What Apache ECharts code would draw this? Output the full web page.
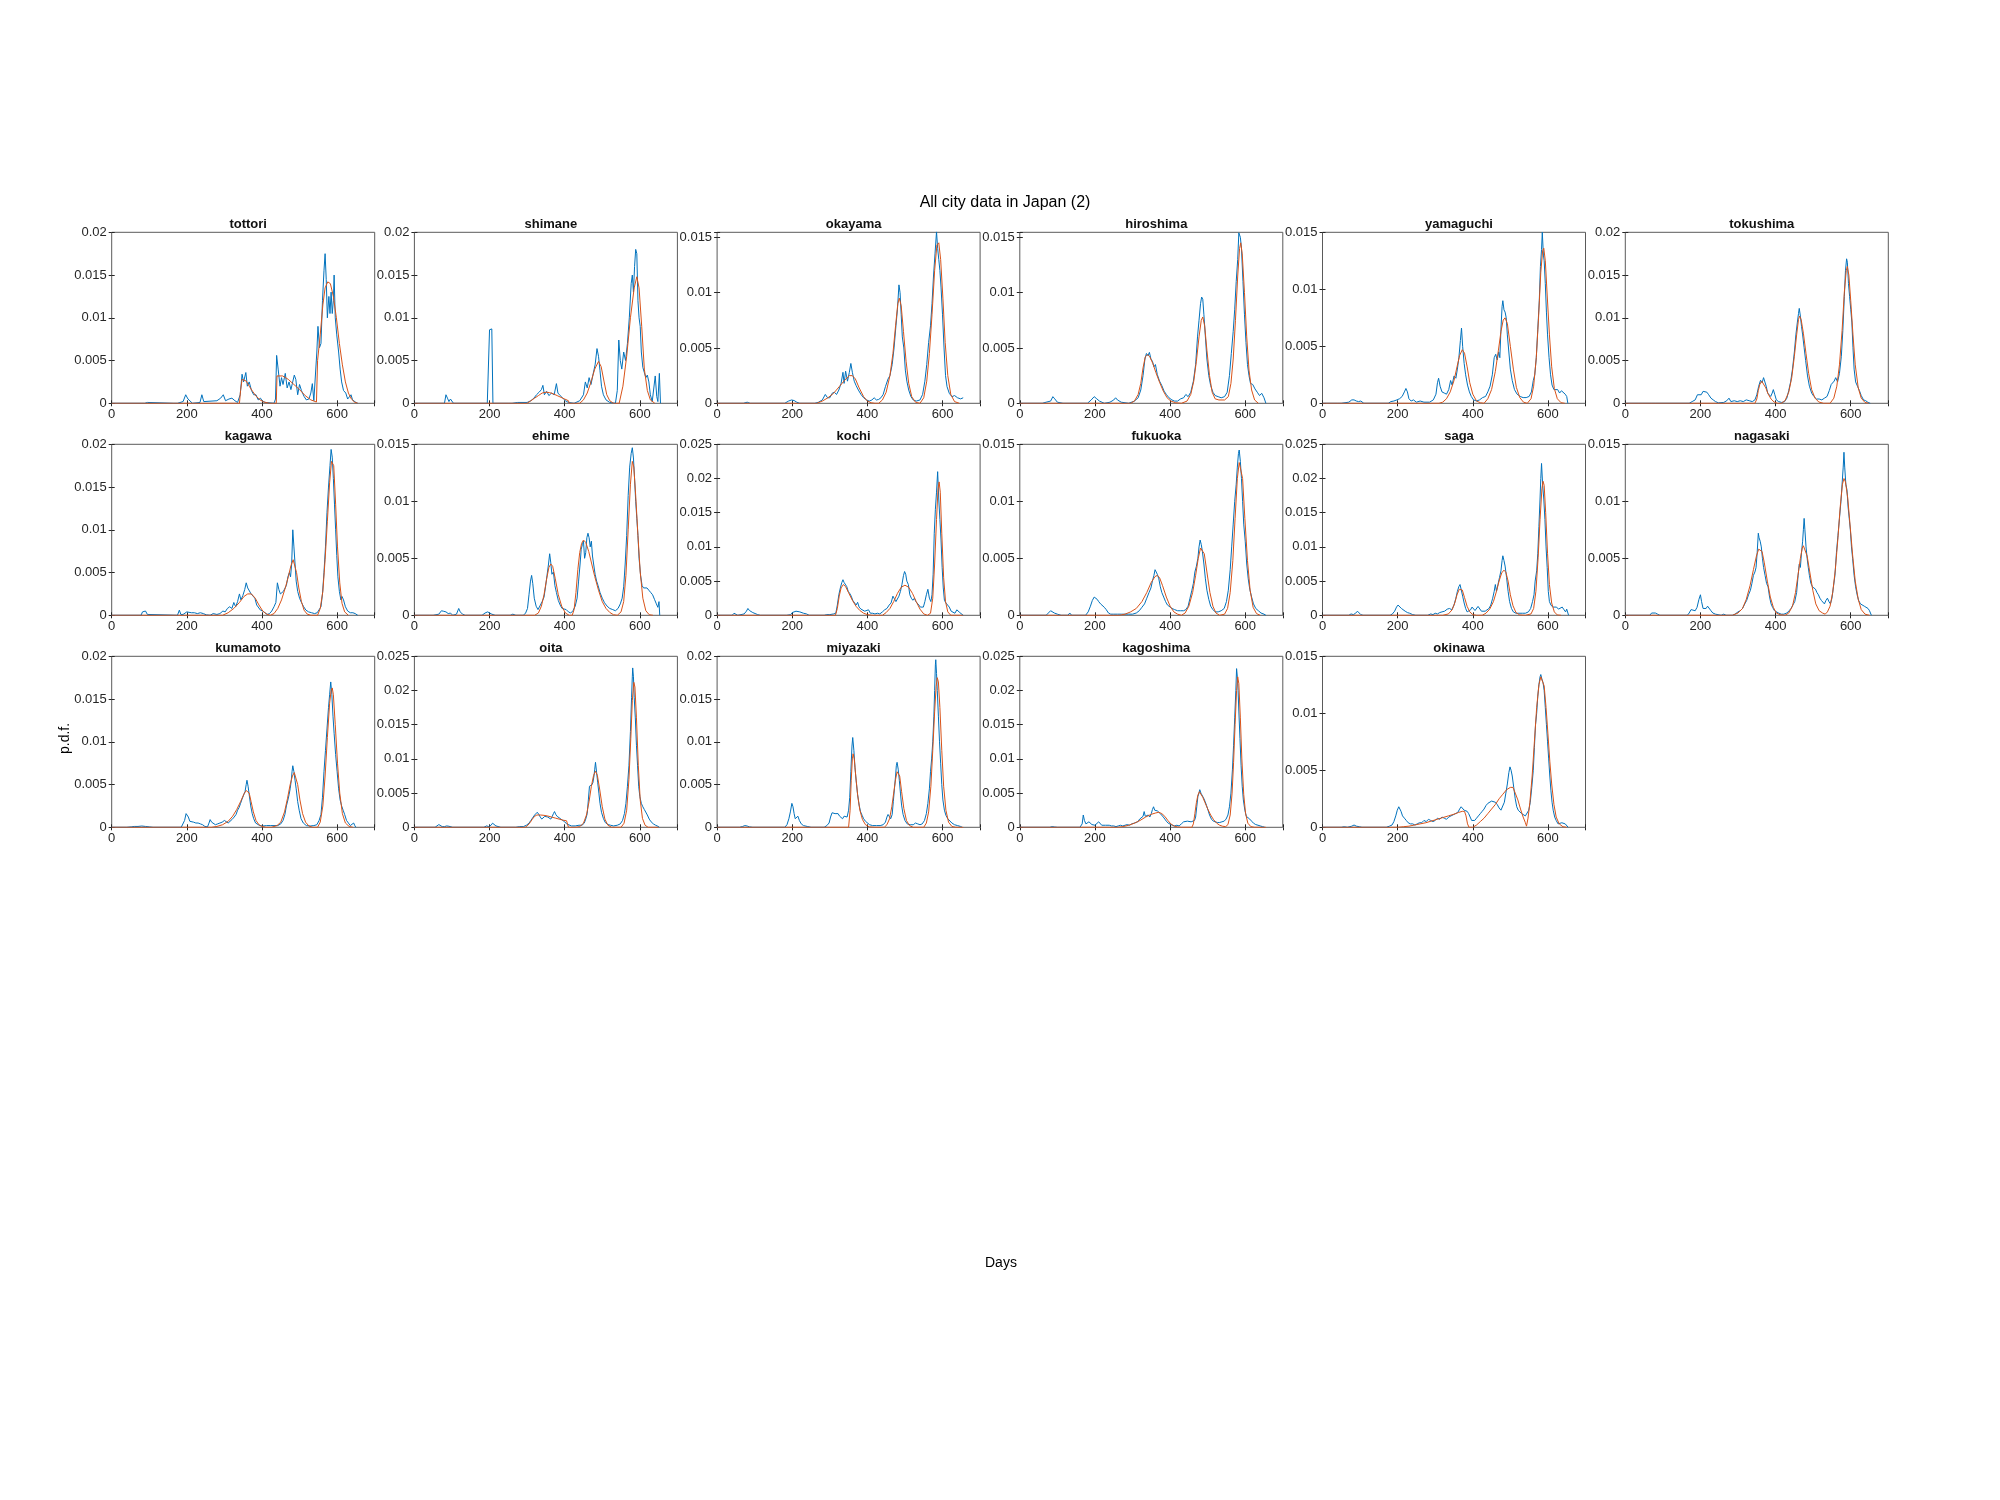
<!DOCTYPE html>
<html><head><meta charset="utf-8">
<script src="https://cdn.jsdelivr.net/npm/echarts@6/dist/echarts.min.js"></script>
<style>html,body{margin:0;padding:0;background:#fff}#c{width:2000px;height:1500px}</style>
</head><body><div id="c"></div>
<script>
// values are in units of 1e-3 (p.d.f. x 1000); axis labels show the real p.d.f.
const cities = ['tottori','shimane','okayama','hiroshima','yamaguchi','tokushima','kagawa','ehime','kochi','fukuoka','saga','nagasaki','kumamoto','oita','miyazaki','kagoshima','okinawa'];
const yMax = [20,20,15.45,15.45,15,20,20,15,25,15,25,15,20,25,20,25,15];
const xTicks = [0,200,400,600];
const yTickStep = 5;

const tottoriObs=[[0,0],[80,0],[84,0.15],[88,0],[95,0.1],[100,0],[165,0],[170,0.1],[175,0],[190,0.2],[197,1.0],[203,0.5],[208,0.3],[215,0],[235,0.1],[240,1.0],[245,0.2],[250,0],[280,0.3],[290,0.6],[297,1.0],[303,0.3],[312,0.5],[320,0.6],[328,0.3],[335,0.1],[342,1.0],[347,3.4],[351,2.5],[357,3.6],[361,2.0],[366,2.5],[372,1.5],[378,1.0],[384,1.0],[390,0.4],[396,0.6],[402,0.2],[410,0.1],[432,0],[436,0.5],[439,5.6],[443,4.0],[448,2.0],[452,3.0],[456,2.2],[462,3.5],[467,1.8],[472,2.5],[477,1.6],[482,1.5],[486,3.3],[490,2.8],[495,1.0],[500,2.2],[505,1.5],[512,0.8],[518,0.4],[525,0.5],[530,1.2],[534,2.3],[538,0.3],[543,0.2],[546,6.0],[549,9.0],[553,6.5],[557,7.0],[561,12],[565,15.5],[568,17.5],[571,14.5],[574,10],[578,12.5],[581,10.5],[584,13],[587,10.5],[590,12],[592,15],[595,10],[599,8],[604,6],[608,4],[612,2.5],[617,1.5],[623,1.2],[628,0.5],[633,0.6],[637,1.0],[641,0.4],[646,0.3],[650,0.1],[655,0]];
const tottoriFit=[[0,0],[340,0],[343,1.5],[347,2.8],[350,3.0],[358,2.6],[366,2.0],[375,1.4],[385,0.8],[395,0.4],[405,0.15],[420,0],[438,0],[440,3.2],[455,3.2],[470,2.8],[485,2.2],[500,1.6],[515,0.9],[530,0.4],[545,0.15],[548,5.0],[555,8.0],[562,11.5],[568,13.5],[575,14.2],[582,14.0],[590,12.5],[598,10],[606,7],[614,4.5],[622,2.5],[630,1.2],[638,0.5],[646,0.15],[655,0]];

const shimaneObs=[[0,0],[80,0],[84,1.0],[88,0.6],[92,0.2],[96,0.5],[100,0.4],[104,0],[185,0],[190,0.2],[194,0],[198,0],[200,8.6],[203,8.4],[206,8.7],[209,0],[214,0.2],[220,0],[250,0],[254,0.2],[260,0],[275,0.1],[300,0.1],[310,0.3],[318,0.6],[325,1.0],[332,1.3],[338,1.6],[342,2.1],[346,1.0],[352,1.4],[358,0.9],[365,1.2],[372,1.0],[378,2.3],[382,1.2],[388,0.9],[395,0.6],[402,0.3],[410,0.1],[425,0],[440,0.3],[450,1.0],[455,2.5],[460,1.8],[465,3.0],[470,2.2],[476,3.5],[481,4.5],[486,6.4],[490,5.5],[494,3.8],[498,2.0],[503,1.0],[510,0.4],[520,0.1],[535,0],[540,1.5],[544,7.4],[548,5.0],[552,4.0],[557,6.0],[562,5.0],[567,7.0],[572,10],[577,14],[580,15],[583,13],[586,16],[589,18],[592,17.5],[595,12],[598,10],[601,9],[604,6],[608,4.2],[612,4.0],[616,3.0],[620,3.3],[624,2.5],[628,1.0],[633,0.2],[637,0],[641,3.2],[645,0.8],[648,0.2],[652,3.5],[655,0]];
const shimaneFit=[[0,0],[300,0],[310,0.3],[320,0.6],[330,0.9],[340,1.2],[350,1.3],[360,1.25],[370,1.1],[380,0.9],[390,0.7],[400,0.5],[410,0.3],[412,0],[440,0],[450,0.4],[460,1.2],[470,2.5],[480,4.0],[490,4.9],[497,4.3],[505,2.5],[512,1.0],[520,0.3],[530,0],[545,0],[555,2],[565,5.5],[575,10],[585,13.5],[592,14.8],[598,13.5],[605,9],[612,4],[620,1.5],[628,0.4],[640,0]];

const okayamaObs=[[0,0],[70,0],[75,0.15],[80,0.1],[88,0],[180,0],[190,0.2],[198,0.3],[205,0.25],[212,0.1],[220,0],[260,0],[270,0.1],[280,0.3],[288,0.8],[294,0.5],[300,0.5],[306,0.9],[312,1.0],[318,0.8],[324,1.2],[330,1.8],[335,2.8],[338,1.8],[342,2.9],[347,2.0],[352,2.8],[356,3.6],[360,2.8],[365,2.0],[370,1.6],[376,1.2],[383,0.8],[390,0.5],[398,0.3],[405,0.2],[412,0.3],[418,0.5],[424,0.3],[430,0.35],[436,0.5],[442,0.8],[448,1.5],[455,2.2],[460,2.5],[466,3.5],[471,5.0],[476,7.0],[480,8.5],[484,10.7],[487,10.0],[490,8.0],[493,6.0],[497,5.0],[501,3.0],[505,2.0],[510,1.2],[516,0.6],[522,0.3],[530,0.2],[540,0.3],[547,0.8],[553,2.0],[558,3.5],[563,5.5],[568,7.0],[572,9.0],[576,11.5],[580,13.5],[584,15.5],[587,14.0],[590,13.0],[593,12.0],[596,10.5],[600,8.0],[604,5.0],[608,2.5],[612,1.5],[618,0.9],[625,0.6],[632,0.7],[640,0.5],[648,0.4],[655,0.5]];
const okayamaFit=[[0,0],[265,0],[280,0.2],[295,0.5],[310,0.9],[325,1.5],[340,2.1],[352,2.5],[360,2.5],[368,2.2],[378,1.4],[390,0.6],[400,0.2],[410,0.05],[420,0],[430,0],[440,0.3],[450,1.0],[460,2.5],[468,4.5],[475,7.0],[481,9.0],[485,9.5],[490,8.8],[496,6.5],[503,3.8],[510,1.8],[518,0.6],[528,0.1],[540,0],[550,0.5],[558,2.0],[565,4.5],[572,8.0],[579,12],[585,14.3],[590,14.5],[595,13],[601,9.5],[607,5.5],[614,2.5],[622,0.8],[632,0.15],[645,0]];

const hiroshimaObs=[[0,0],[60,0],[70,0.1],[82,0.2],[88,0.6],[93,0.4],[100,0.1],[115,0],[180,0],[190,0.3],[198,0.6],[205,0.4],[212,0.2],[225,0],[240,0.1],[250,0.3],[255,0.5],[260,0.3],[270,0.1],[290,0],[305,0.2],[315,0.5],[322,1.2],[328,2.5],[333,4.0],[337,4.5],[341,4.3],[345,4.6],[349,4.0],[353,3.8],[357,3.3],[361,3.5],[366,2.6],[372,2.0],[378,1.6],[384,1.1],[390,0.8],[397,0.5],[405,0.3],[412,0.2],[420,0.2],[428,0.4],[436,0.5],[442,0.8],[448,0.6],[455,1.0],[462,2.0],[468,3.5],[473,6.0],[477,7.5],[481,9.0],[484,9.6],[487,9.4],[490,8.0],[494,6.0],[498,4.0],[503,2.5],[508,1.6],[514,1.0],[520,0.7],[528,0.6],[536,0.5],[545,0.6],[552,1.0],[558,2.5],[563,4.5],[568,6.5],[572,8.5],[576,11],[580,13],[583,15.4],[587,15],[590,14],[594,11],[598,8],[602,5.5],[606,3.5],[610,2.5],[614,1.8],[620,1.7],[626,1.3],[632,1.0],[638,0.7],[644,0.9],[650,0.5],[655,0]];
const hiroshimaFit=[[0,0],[295,0],[305,0.2],[315,0.8],[322,1.8],[328,3.2],[334,4.2],[340,4.4],[346,4.2],[354,3.6],[362,2.8],[372,1.9],[382,1.1],[392,0.5],[402,0.2],[415,0.05],[430,0],[445,0.2],[455,0.8],[463,2.0],[470,3.8],[477,6.0],[483,7.5],[487,7.8],[492,7.0],[498,4.8],[505,2.5],[512,1.0],[520,0.4],[530,0.3],[545,0.3],[555,0.6],[562,1.8],[568,4.0],[574,7.5],[580,11.5],[585,14.0],[588,14.5],[592,13.5],[598,10],[604,6.0],[610,3.0],[617,1.2],[625,0.3],[635,0]];

const yamaguchiObs=[[0,0],[40,0],[45,0.15],[50,0],[70,0.1],[78,0.3],[84,0.3],[90,0.2],[96,0.15],[102,0.2],[110,0],[175,0],[182,0.15],[190,0.2],[198,0.3],[205,0.4],[212,0.6],[218,1.0],[222,1.3],[226,1.0],[230,0.4],[236,0.2],[242,0.3],[250,0.1],[260,0.2],[270,0.1],[285,0.1],[295,0.3],[302,0.8],[306,1.8],[309,2.2],[313,1.5],[318,1.0],[324,0.9],[330,0.8],[336,1.2],[341,2.0],[345,1.6],[350,2.4],[355,2.2],[359,3.0],[363,4.0],[367,5.5],[370,6.6],[373,5.0],[377,3.5],[381,2.5],[386,1.6],[391,1.0],[396,0.6],[402,0.3],[410,0.2],[418,0.3],[426,0.5],[434,0.6],[440,1.0],[446,1.5],[452,2.5],[457,4.0],[461,4.3],[465,3.8],[469,4.5],[472,4.0],[475,6.5],[478,8.5],[480,9.0],[483,8.2],[486,8.0],[489,7.5],[492,6.0],[496,4.5],[500,3.0],[505,2.0],[511,1.2],[518,0.8],[526,0.6],[534,0.5],[542,0.5],[550,0.6],[556,1.0],[561,2.0],[565,2.5],[569,4.0],[573,6.5],[577,9.0],[580,12],[583,13.5],[585,15],[588,13],[590,12.5],[593,10.5],[596,8],[599,6],[603,4],[607,2.5],[611,1.6],[616,1.2],[621,1.1],[626,1.2],[631,0.9],[636,1.1],[641,1.0],[646,0.8],[650,0.6],[653,0]];
const yamaguchiFit=[[0,0],[310,0],[320,0.1],[330,0.4],[340,1.0],[350,2.0],[358,3.2],[365,4.2],[372,4.7],[378,4.4],[385,3.2],[392,1.8],[400,0.8],[410,0.2],[420,0.05],[430,0],[440,0.4],[450,1.2],[460,2.8],[468,4.6],[475,6.3],[481,7.3],[486,7.5],[492,7.0],[500,5.0],[508,3.0],[516,1.4],[525,0.5],[535,0.1],[545,0],[555,0.4],[562,1.5],[569,4.0],[575,7.5],[581,11.5],[586,13.4],[589,13.6],[593,12.5],[598,9.5],[604,6.0],[610,3.2],[617,1.3],[625,0.4],[635,0.05],[645,0]];

const tokushimaObs=[[0,0],[35,0],[40,0.1],[45,0],[70,0],[75,0.15],[80,0],[170,0],[178,0.2],[186,0.4],[192,1.0],[197,1.2],[202,1.0],[207,1.4],[212,1.2],[217,1.3],[222,1.0],[228,0.6],[234,0.4],[240,0.2],[248,0.05],[262,0.1],[270,0.3],[276,0.6],[281,0.2],[290,0.3],[298,0.2],[306,0.3],[314,0.2],[322,0.4],[330,0.3],[338,0.2],[345,0.4],[350,1.0],[355,2.0],[360,2.7],[364,2.4],[368,3.0],[371,3.1],[375,2.0],[379,1.2],[383,1.0],[387,0.8],[391,1.2],[394,1.6],[398,1.0],[402,0.4],[408,0.2],[416,0.1],[424,0.2],[430,0.6],[435,1.5],[440,2.5],[445,4.0],[450,6.0],[454,8.0],[458,9.5],[461,10.5],[463,11.1],[466,10.2],[469,9.0],[472,8.0],[476,6.5],[480,5.0],[485,3.2],[490,2.0],[496,1.2],[502,0.8],[509,0.5],[516,0.5],[523,0.4],[530,0.6],[537,0.8],[543,1.5],[548,2.2],[552,2.0],[556,2.6],[560,3.0],[565,2.5],[570,3.5],[575,5.5],[579,8.5],[583,12.5],[586,15.5],[589,16.9],[591,16.5],[594,14],[597,12.5],[600,11],[603,9.5],[606,6.5],[609,4.0],[613,2.5],[618,2.0],[623,1.5],[628,0.9],[634,0.4],[640,0.3],[646,0.1],[652,0]];
const tokushimaFit=[[0,0],[345,0],[350,0.5],[354,1.5],[358,2.2],[363,2.6],[368,2.4],[374,1.8],[380,1.1],[388,0.5],[396,0.15],[405,0],[415,0],[425,0.3],[435,1.3],[443,3.0],[450,5.5],[456,8.0],[461,9.8],[464,10.2],[468,9.8],[474,8.2],[481,5.8],[488,3.5],[496,1.6],[505,0.6],[515,0.15],[528,0],[545,0],[555,0.6],[563,2.0],[570,4.5],[577,8.5],[583,13],[588,15.5],[591,16.0],[595,15],[600,12],[606,8],[612,4.5],[620,1.8],[628,0.6],[638,0.1],[648,0]];

const kagawaObs=[[0,0],[78,0],[82,0.4],[86,0.6],[90,0.5],[95,0.1],[100,0],[175,0],[180,0.6],[184,0.1],[190,0.1],[195,0.3],[200,0.4],[205,0.2],[212,0.3],[220,0.3],[228,0.2],[236,0.3],[244,0.2],[252,0.05],[262,0],[270,0.2],[280,0.1],[288,0.2],[296,0.5],[302,0.4],[308,0.8],[314,1.0],[320,0.8],[325,1.5],[330,1.0],[335,1.6],[340,2.5],[344,1.8],[349,2.3],[354,3.0],[358,3.8],[362,3.2],[366,3.0],[371,2.5],[376,2.6],[381,2.0],[386,1.2],[391,1.0],[396,0.6],[402,0.5],[408,0.3],[414,0.1],[420,0.2],[426,0.5],[432,1.0],[437,1.5],[441,3.8],[445,3.0],[449,2.5],[453,2.5],[457,2.8],[461,3.0],[465,3.5],[469,4.5],[473,5.0],[476,4.5],[479,6.0],[482,10.0],[485,8.0],[488,6.0],[491,4.0],[495,2.8],[500,2.0],[505,1.5],[511,1.0],[517,0.6],[524,0.4],[532,0.3],[540,0.2],[547,0.3],[552,0.5],[557,1.0],[561,2.5],[565,5.0],[569,8.0],[573,12],[577,15],[581,17.5],[584,19.4],[587,18.5],[590,16],[593,13],[596,10],[599,7],[602,4.5],[606,2.8],[610,1.8],[613,2.2],[617,1.8],[622,1.0],[628,0.5],[635,0.3],[642,0.3],[648,0.2],[655,0]];
const kagawaFit=[[0,0],[295,0],[310,0.3],[325,0.8],[340,1.5],[352,2.2],[362,2.5],[372,2.5],[382,2.0],[392,1.2],[402,0.5],[412,0.15],[422,0],[432,0.2],[442,0.8],[452,1.8],[462,3.2],[470,4.5],[477,5.8],[483,6.5],[487,6.3],[492,5.0],[498,3.2],[505,1.6],[512,0.6],[520,0.15],[530,0],[548,0],[555,0.8],[562,2.8],[568,6.5],[574,11],[580,15.5],[585,18.0],[588,18.2],[591,17.5],[596,13],[601,8],[607,3.8],[613,1.4],[620,0.4],[630,0]];

const ehimeObs=[[0,0],[40,0],[45,0.1],[50,0],[65,0.1],[72,0.4],[78,0.35],[84,0.3],[90,0.15],[96,0.2],[102,0],[112,0.1],[118,0.6],[122,0.3],[128,0.1],[135,0],[180,0],[188,0.2],[195,0.3],[200,0.2],[206,0.1],[215,0],[255,0],[262,0.1],[270,0],[290,0],[296,0.2],[301,0.6],[305,1.8],[309,3.0],[312,3.5],[315,2.8],[319,1.5],[324,0.8],[329,0.5],[334,0.6],[340,1.2],[345,1.6],[349,2.5],[353,3.5],[357,4.5],[360,5.4],[363,4.6],[366,3.6],[370,3.8],[374,2.6],[378,2.0],[383,1.3],[388,0.9],[393,0.6],[398,0.6],[404,0.5],[410,0.3],[416,0.2],[422,0.4],[428,0.8],[433,1.5],[437,3.0],[441,4.5],[444,5.8],[447,6.2],[450,6.5],[453,5.0],[456,5.5],[459,6.8],[462,7.2],[465,6.8],[468,6.0],[471,6.5],[474,5.2],[477,4.5],[481,3.6],[485,3.0],[489,2.6],[494,2.0],[500,1.5],[506,1.1],[513,0.8],[520,0.6],[528,0.5],[535,0.4],[542,0.6],[548,1.0],[553,1.5],[557,2.5],[561,4.5],[565,7.0],[569,10.5],[573,13],[577,14.2],[580,14.7],[583,13.8],[586,12],[589,10],[592,8.5],[595,7.0],[598,5.0],[602,3.5],[606,2.6],[610,2.4],[614,2.5],[619,2.4],[624,2.2],[629,2.0],[634,1.8],[639,1.4],[644,1.0],[648,0.7],[651,1.2],[653,0]];
const ehimeFit=[[0,0],[320,0],[330,0.2],[338,0.8],[345,1.8],[352,3.2],[358,4.2],[363,4.5],[368,4.3],[375,3.2],[383,1.8],[392,0.8],[402,0.2],[412,0],[420,0],[425,0.5],[430,2.0],[435,4.0],[440,5.5],[445,6.3],[450,6.6],[456,6.4],[464,5.6],[472,4.5],[480,3.4],[490,2.2],[500,1.2],[510,0.6],[520,0.25],[530,0.05],[540,0],[550,0.3],[557,1.2],[563,3.5],[569,7.5],[575,11.5],[580,13.5],[584,13.0],[589,10.5],[595,7.0],[601,3.8],[608,1.5],[616,0.4],[625,0.05],[635,0]];

const kochiObs=[[0,0],[40,0],[45,0.3],[50,0.2],[55,0],[72,0.2],[78,0.6],[82,1.0],[86,0.7],[90,0.5],[95,0.4],[100,0.3],[108,0.1],[115,0],[185,0],[190,0.2],[196,0.1],[200,0.4],[205,0.2],[210,0.6],[215,0.8],[220,0.5],[225,0.6],[230,0.3],[238,0.2],[245,0],[285,0],[292,0.1],[300,0.1],[310,0.2],[316,0.3],[320,1.5],[324,3.0],[328,4.0],[332,4.8],[335,5.2],[338,4.8],[341,5.0],[345,4.2],[349,3.5],[353,3.2],[357,2.8],[361,2.2],[366,1.8],[370,1.5],[374,1.9],[378,1.2],[383,0.9],[388,1.0],[393,0.6],[398,0.5],[403,0.8],[408,0.3],[414,0.3],[420,0.2],[427,0.3],[433,0.2],[440,0.5],[446,0.8],[452,1.0],[458,1.5],[463,1.8],[468,2.8],[472,2.4],[476,2.0],[480,2.2],[484,2.8],[488,3.5],[492,4.5],[496,5.8],[499,6.4],[502,6.0],[505,5.0],[509,4.5],[513,3.0],[517,2.5],[521,2.2],[525,2.5],[529,2.0],[533,1.8],[537,1.5],[541,1.2],[545,1.0],[549,1.2],[553,2.0],[557,3.0],[561,3.8],[565,2.5],[569,2.0],[572,3.0],[575,6.0],[578,12],[581,15.5],[584,18],[587,21],[590,17],[593,14],[596,11],[599,7],[602,4],[605,2.2],[609,1.8],[613,1.9],[618,1.2],[623,0.6],[628,0.4],[633,0.3],[638,0.8],[642,1.0],[646,0.4],[650,0.3],[655,0]];
const kochiFit=[[0,0],[315,0],[320,1.0],[325,2.8],[330,4.0],[336,4.5],[342,4.2],[350,3.3],[360,2.2],[370,1.3],[380,0.7],[390,0.3],[400,0.1],[412,0],[440,0],[450,0.4],[460,1.0],[470,2.0],[480,3.2],[490,4.1],[500,4.4],[510,4.1],[520,3.2],[530,2.0],[540,0.9],[550,0.2],[560,0],[568,0.3],[574,2.5],[579,7.5],[584,14],[588,18.5],[591,19.5],[594,18],[598,12],[603,5.5],[608,2.0],[614,0.5],[622,0],[655,0]];

const fukuokaObs=[[0,0],[70,0],[76,0.2],[82,0.4],[86,0.4],[92,0.2],[100,0.1],[110,0],[128,0],[133,0.2],[138,0],[175,0],[182,0.3],[188,0.8],[193,1.3],[198,1.6],[202,1.7],[206,1.4],[210,1.2],[215,1.0],[220,0.9],[225,0.7],[230,0.5],[236,0.2],[242,0.1],[250,0.1],[260,0.1],[270,0.1],[280,0.1],[290,0.1],[300,0.1],[310,0.2],[318,0.4],[325,0.7],[332,1.0],[338,1.5],[344,2.0],[349,2.4],[353,3.0],[357,3.5],[360,4.0],[363,4.0],[366,3.6],[370,3.2],[374,2.5],[378,2.0],[383,1.6],[388,1.2],[393,0.9],[398,0.8],[405,0.6],[412,0.5],[420,0.4],[428,0.4],[436,0.4],[442,0.5],[448,0.8],[453,1.5],[458,2.2],[462,2.8],[466,3.8],[470,4.3],[474,5.0],[477,6.0],[480,6.6],[483,6.2],[486,5.6],[490,4.5],[494,3.2],[498,2.2],[503,1.4],[508,0.8],[514,0.5],[520,0.3],[528,0.3],[536,0.4],[544,0.6],[550,1.2],[555,2.2],[560,4.0],[564,6.0],[568,8.0],[572,10],[576,11.5],[579,13],[582,14.2],[584,14.5],[587,13.5],[590,12],[593,10],[596,8],[600,6.5],[604,4.5],[608,3.2],[612,2.3],[617,1.6],[622,1.0],[628,0.6],[635,0.4],[642,0.2],[650,0.1],[655,0]];
const fukuokaFit=[[0,0],[265,0],[280,0.1],[295,0.3],[310,0.6],[325,1.2],[338,2.0],[350,2.9],[360,3.4],[366,3.5],[372,3.3],[380,2.6],[390,1.6],[400,0.8],[410,0.3],[420,0.1],[430,0],[440,0.2],[450,0.8],[460,2.0],[468,3.5],[475,5.0],[481,5.9],[486,6.0],[491,5.4],[498,3.8],[506,2.0],[514,0.8],[522,0.2],[532,0],[545,0.1],[553,0.6],[560,2.0],[567,4.8],[573,8.5],[579,12],[584,13.4],[588,13.5],[593,12],[599,8.5],[606,4.8],[613,2.2],[621,0.7],[630,0.15],[640,0]];

const sagaObs=[[0,0],[70,0],[76,0.2],[82,0.1],[88,0.3],[93,0.6],[97,0.5],[102,0.1],[108,0],[180,0],[186,0.2],[192,0.6],[197,1.2],[201,1.5],[205,1.3],[210,1.0],[215,0.8],[220,0.6],[226,0.4],[232,0.3],[240,0.1],[248,0],[280,0],[288,0.2],[294,0.1],[300,0.3],[306,0.2],[312,0.4],[318,0.5],[325,0.6],[332,0.9],[338,1.0],[344,0.8],[350,1.5],[355,2.5],[359,3.5],[363,4.2],[366,4.5],[369,3.8],[373,2.8],[377,1.8],[381,1.0],[385,0.5],[390,0.4],[394,0.8],[398,1.2],[402,1.0],[406,0.7],[410,0.9],[414,1.3],[418,1.1],[423,0.6],[428,0.5],[433,0.6],[438,0.8],[443,1.0],[448,1.5],[453,2.5],[457,3.5],[460,4.5],[463,3.5],[467,4.5],[471,5.5],[475,6.5],[478,8.0],[480,8.7],[483,8.0],[486,7.2],[490,5.5],[494,3.5],[498,2.0],[503,1.0],[508,0.5],[515,0.3],[523,0.3],[532,0.3],[540,0.3],[548,0.5],[554,1.0],[559,2.0],[563,3.0],[566,5.0],[570,6.5],[573,9.0],[576,13],[579,17],[581,20],[583,22.2],[586,19],[589,17],[592,14],[595,10],[598,7],[601,3.5],[604,2.0],[608,1.5],[613,1.2],[618,1.4],[623,1.2],[628,0.9],[633,1.0],[638,1.2],[643,0.8],[647,0.5],[650,0.9],[653,0.7],[655,0]];
const sagaFit=[[0,0],[320,0],[335,0.2],[345,0.8],[352,1.8],[358,3.0],[364,3.8],[368,4.0],[372,3.7],[378,2.6],[385,1.3],[392,0.5],[400,0.1],[410,0],[425,0],[435,0.3],[445,0.9],[455,2.0],[463,3.5],[470,5.0],[477,6.2],[483,6.6],[488,6.3],[494,5.0],[500,3.0],[507,1.4],[515,0.4],[525,0.05],[540,0],[555,0.2],[562,1.0],[568,3.5],[574,8.5],[579,14],[584,18.5],[587,19.6],[590,19],[594,15],[599,9],[604,4.5],[610,1.8],[617,0.5],[625,0.05],[635,0]];

const nagasakiObs=[[0,0],[65,0],[70,0.2],[75,0.3],[80,0.2],[86,0.1],[92,0],[165,0],[170,0.2],[175,0.5],[180,0.5],[186,0.4],[191,0.7],[196,1.4],[200,1.8],[203,1.2],[207,0.6],[211,0.5],[215,0.6],[219,0.8],[223,0.7],[228,0.4],[233,0.2],[240,0.1],[255,0],[262,0.1],[268,0],[285,0],[292,0.1],[300,0.3],[306,0.4],[312,0.6],[318,1.0],[323,1.3],[328,1.8],[333,2.2],[337,2.8],[341,3.5],[345,3.8],[348,4.2],[351,5.5],[354,7.2],[356,6.8],[359,6.5],[362,6.0],[365,5.0],[368,4.2],[372,3.5],[376,2.8],[380,2.5],[384,1.6],[388,1.0],[392,0.7],[397,0.4],[402,0.3],[408,0.2],[415,0.1],[422,0.1],[430,0.2],[436,0.4],[441,0.6],[446,0.7],[451,1.2],[456,2.0],[460,3.5],[463,4.5],[466,4.2],[469,5.5],[472,6.5],[474,7.5],[476,8.5],[478,7.5],[481,6.0],[484,5.0],[487,4.2],[490,3.5],[494,2.8],[498,2.5],[502,2.6],[506,2.3],[510,2.0],[514,1.8],[518,1.5],[522,1.3],[526,1.2],[530,1.0],[534,1.3],[538,1.5],[542,1.2],[546,1.0],[550,1.5],[554,2.5],[558,3.5],[562,5.5],[566,7.0],[570,8.5],[574,10],[577,11.5],[580,13],[582,14.3],[584,13],[587,11.5],[590,11],[593,9.5],[596,8.5],[599,7.5],[602,6.0],[605,5.0],[609,3.5],[613,2.5],[617,1.8],[621,1.3],[626,1.0],[631,0.9],[636,0.8],[641,0.8],[646,0.6],[650,0.4],[653,0.5],[655,0]];
const nagasakiFit=[[0,0],[285,0],[300,0.2],[312,0.6],[322,1.4],[332,2.6],[341,4.0],[349,5.2],[355,5.8],[359,5.9],[364,5.6],[370,4.6],[378,3.0],[386,1.6],[394,0.7],[402,0.2],[412,0.05],[425,0],[435,0.2],[445,0.8],[453,2.0],[460,3.6],[466,5.0],[471,5.9],[474,6.1],[478,6.0],[484,5.2],[491,3.8],[499,2.2],[507,1.0],[516,0.4],[525,0.2],[532,0.1],[538,0.3],[545,0.8],[552,2.0],[559,4.0],[566,6.8],[572,9.5],[578,11.5],[582,12.0],[586,11.7],[592,10.3],[598,8.0],[605,5.3],[612,3.0],[620,1.4],[628,0.5],[638,0.1],[650,0]];

const kumamotoObs=[[0,0],[40,0],[45,0.1],[52,0.05],[60,0.1],[70,0.1],[80,0.15],[90,0.1],[100,0.05],[110,0],[185,0],[190,0.2],[194,0.8],[198,1.6],[201,1.7],[204,1.2],[208,0.7],[213,0.5],[218,0.6],[224,0.5],[230,0.5],[236,0.4],[242,0.3],[248,0.1],[255,0.05],[259,0.5],[262,0.9],[266,0.6],[270,0.4],[276,0.3],[282,0.4],[288,0.5],[294,0.6],[300,0.8],[305,0.6],[310,0.5],[315,0.7],[320,0.9],[326,1.2],[331,1.5],[335,2.0],[339,2.3],[343,2.8],[347,3.3],[351,3.5],[355,4.2],[358,5.0],[360,5.5],[363,4.8],[366,3.8],[370,2.5],[374,1.6],[378,1.0],[383,0.5],[388,0.3],[394,0.2],[402,0.15],[412,0.2],[422,0.2],[432,0.2],[442,0.2],[450,0.4],[456,0.8],[461,1.5],[465,2.5],[469,3.2],[472,3.8],[475,4.5],[478,5.5],[480,6.5],[482,7.2],[485,6.5],[488,5.5],[491,4.5],[495,3.0],[499,2.0],[504,1.0],[510,0.5],[518,0.2],[528,0.15],[538,0.2],[546,0.3],[552,0.8],[557,1.5],[561,3.5],[565,6.5],[569,9],[573,11.5],[577,14],[580,15.5],[583,17],[586,15.5],[589,13],[592,11],[596,8.5],[600,6.5],[604,4.5],[608,3.2],[612,2.5],[616,2.0],[620,1.5],[625,0.8],[630,0.5],[635,0.2],[640,0.1],[644,0.5],[647,0.2],[650,0]];
const kumamotoFit=[[0,0],[265,0],[280,0.1],[295,0.3],[310,0.7],[322,1.3],[333,2.1],[343,3.0],[352,3.9],[358,4.3],[362,4.3],[366,4.0],[371,3.0],[377,1.8],[384,0.8],[392,0.3],[400,0.1],[410,0],[425,0],[440,0.2],[450,0.6],[460,1.8],[468,3.4],[475,5.0],[481,6.0],[486,6.4],[490,6.2],[495,5.0],[501,3.2],[508,1.6],[516,0.6],[525,0.15],[535,0],[548,0],[555,0.6],[562,2.5],[568,6.0],[574,10.5],[580,14.5],[584,16.0],[587,16.3],[590,15.5],[595,12],[601,7.5],[607,4.0],[614,1.6],[622,0.5],[632,0.1],[642,0]];

const oitaObs=[[0,0],[55,0],[60,0.1],[65,0.4],[69,0.2],[74,0.1],[80,0.1],[86,0.2],[92,0.15],[97,0.2],[102,0],[185,0],[192,0.2],[198,0.1],[204,0.3],[208,0.6],[212,0.4],[217,0.2],[222,0.1],[230,0],[270,0],[280,0.1],[290,0.1],[298,0.3],[305,0.6],[310,1.0],[315,1.2],[320,1.8],[324,2.0],[327,2.2],[331,1.9],[335,1.5],[339,1.2],[343,1.4],[347,1.6],[351,1.8],[355,1.5],[359,1.3],[363,1.2],[367,1.6],[370,2.0],[373,2.3],[376,1.9],[380,1.6],[385,1.4],[390,1.2],[395,1.0],[400,0.8],[405,0.5],[410,0.3],[418,0.2],[428,0.2],[438,0.3],[446,0.3],[452,0.6],[456,1.2],[460,2.0],[463,4.0],[466,6.0],[469,5.8],[472,6.2],[475,6.5],[478,7.5],[480,8.5],[482,9.5],[485,8.0],[488,6.5],[491,5.0],[494,3.5],[498,2.2],[503,1.3],[508,0.7],[515,0.4],[522,0.3],[530,0.2],[540,0.3],[548,0.5],[554,1.0],[559,2.0],[563,3.5],[567,6.0],[571,9],[575,14],[578,19],[580,22],[581,23.3],[583,22],[585,19],[588,16],[591,12],[594,9],[597,6],[600,4.5],[604,3.5],[608,3.0],[612,2.6],[616,2.4],[620,1.8],[625,1.2],[630,0.8],[636,0.5],[642,0.3],[648,0.15],[652,0]];
const oitaFit=[[0,0],[295,0],[302,0.3],[308,0.7],[314,1.2],[320,1.6],[326,1.8],[335,1.8],[345,1.75],[355,1.65],[365,1.5],[375,1.35],[385,1.2],[395,1.05],[405,0.95],[409,0.9],[410,0],[430,0],[440,0.1],[450,0.6],[458,1.8],[465,3.8],[471,6.0],[477,7.6],[482,8.2],[487,7.6],[493,5.6],[500,3.0],[507,1.2],[515,0.3],[525,0],[550,0],[558,0.6],[565,2.5],[571,7.0],[576,13],[580,18.5],[584,21.2],[587,20.5],[591,16],[596,9],[601,4.0],[607,1.3],[614,0.3],[622,0],[650,0]];

const miyazakiObs=[[0,0],[60,0],[68,0.1],[74,0.2],[80,0.15],[86,0.05],[95,0],[180,0],[186,0.3],[191,1.0],[195,1.8],[199,2.8],[202,2.4],[205,1.6],[208,1.0],[212,1.2],[215,1.3],[219,0.8],[224,0.4],[230,0.2],[240,0.1],[250,0],[285,0],[292,0.2],[298,0.5],[302,1.2],[306,1.7],[310,1.5],[314,1.6],[318,1.4],[322,1.6],[326,1.3],[330,1.2],[334,1.0],[338,1.3],[342,1.5],[346,1.2],[350,2.0],[353,3.5],[356,6.5],[359,9.5],[361,10.5],[364,9.0],[367,7.0],[370,5.5],[374,3.8],[378,2.6],[382,1.8],[386,1.4],[390,1.0],[395,0.7],[400,0.5],[406,0.3],[414,0.2],[424,0.2],[434,0.2],[442,0.3],[448,0.6],[452,1.2],[455,1.5],[458,1.3],[462,1.0],[466,1.5],[469,3.0],[472,4.5],[475,6.0],[477,7.2],[479,7.6],[482,6.8],[485,5.5],[488,4.0],[491,2.6],[495,1.5],[500,0.8],[506,0.4],[514,0.3],[522,0.3],[528,0.5],[534,0.4],[540,0.3],[546,0.4],[552,0.8],[557,1.6],[561,2.8],[565,4.5],[568,6.5],[571,8.0],[574,10],[577,13],[579,16],[581,19],[582,19.6],[584,18],[586,16],[589,13],[592,10],[595,7.5],[598,5.0],[601,3.2],[605,2.0],[609,1.4],[614,1.0],[619,0.8],[625,0.5],[632,0.3],[640,0.2],[648,0.1],[652,0]];
const miyazakiFit=[[0,0],[350,0],[354,2.0],[357,5.5],[360,8.0],[362,8.6],[365,8.0],[369,6.0],[374,3.8],[380,2.0],[387,0.9],[395,0.3],[405,0.05],[420,0],[445,0],[452,0.3],[459,1.0],[465,2.4],[470,4.0],[475,5.6],[479,6.5],[482,6.6],[486,6.0],[491,4.2],[497,2.2],[504,0.8],[512,0.2],[522,0],[550,0],[557,0.5],[563,1.8],[569,4.8],[574,9.0],[579,13.5],[583,16.5],[586,17.5],[589,17],[593,14],[598,9],[603,4.8],[609,2.0],[616,0.6],[625,0.1],[635,0],[655,0]];

const kagoshimaObs=[[0,0],[80,0],[86,0.1],[92,0.05],[100,0],[160,0],[166,0.5],[169,1.8],[172,1.0],[176,0.5],[180,0.6],[184,0.8],[188,0.6],[192,0.4],[196,0.5],[200,0.3],[205,0.5],[210,0.8],[214,0.6],[218,0.3],[223,0.2],[228,0.3],[233,0.4],[238,0.3],[244,0.2],[250,0.2],[256,0.1],[262,0.2],[268,0.3],[274,0.2],[280,0.3],[286,0.4],[292,0.3],[298,0.5],[304,0.6],[309,0.5],[314,0.8],[319,1.2],[324,1.0],[328,1.6],[331,2.3],[334,1.6],[338,1.4],[342,1.8],[346,1.5],[350,2.0],[353,2.6],[356,3.0],[359,2.5],[362,2.7],[366,2.4],[370,2.2],[374,2.0],[378,1.8],[382,1.5],[386,1.2],[390,0.9],[395,0.6],[400,0.4],[406,0.3],[412,0.2],[418,0.3],[424,0.2],[430,0.5],[436,0.8],[441,1.0],[446,0.9],[451,1.0],[456,0.8],[461,0.7],[465,1.0],[468,1.5],[471,3.0],[474,4.5],[477,5.0],[479,5.5],[482,5.0],[485,4.8],[489,4.3],[493,3.8],[497,3.2],[501,2.5],[505,1.8],[510,1.2],[515,0.9],[520,0.8],[526,0.7],[532,0.7],[538,0.8],[544,0.9],[549,1.2],[554,1.8],[558,3.0],[562,5.0],[566,8.5],[569,12],[572,16],[575,20],[577,23.2],[579,22],[581,20],[583,17],[586,13],[589,9],[592,6],[595,4],[599,2.5],[603,1.6],[607,1.5],[612,1.2],[617,0.9],[622,0.6],[628,0.4],[634,0.3],[640,0.2],[646,0.1],[652,0]];
const kagoshimaFit=[[0,0],[260,0],[275,0.1],[290,0.3],[305,0.6],[320,1.0],[335,1.5],[350,1.9],[362,2.1],[370,2.2],[378,2.0],[386,1.6],[394,1.0],[402,0.5],[410,0.2],[420,0.05],[430,0],[458,0],[462,0.5],[466,2.0],[470,3.6],[474,4.7],[478,5.2],[482,5.0],[487,4.4],[493,3.6],[500,2.7],[508,1.8],[516,1.1],[524,0.6],[532,0.3],[540,0.15],[548,0.1],[554,0.4],[560,1.8],[565,5.0],[569,9.5],[573,15],[577,20],[580,22],[583,21],[587,16],[591,10],[596,4.8],[601,2.0],[607,0.6],[615,0.1],[625,0],[655,0]];

const okinawaObs=[[0,0],[50,0],[58,0.05],[66,0],[78,0.1],[84,0.2],[90,0.1],[98,0.05],[105,0],[170,0],[178,0.1],[185,0.2],[190,0.5],[195,1.0],[199,1.5],[203,1.8],[206,1.7],[209,1.4],[213,1.0],[218,0.8],[223,0.6],[228,0.4],[234,0.3],[240,0.3],[246,0.2],[252,0.3],[258,0.4],[264,0.4],[270,0.6],[276,0.5],[282,0.7],[288,0.6],[294,0.5],[300,0.6],[306,0.8],[312,0.7],[318,0.9],[324,0.8],[330,0.7],[336,0.9],[342,1.0],[348,1.1],[354,1.2],[360,1.3],[365,1.6],[369,1.8],[373,1.7],[377,1.5],[381,1.6],[385,1.4],[389,1.2],[393,0.9],[397,0.6],[401,0.5],[405,0.6],[410,0.8],[415,1.0],[420,1.2],[425,1.4],[430,1.6],[435,1.9],[440,2.1],[445,2.2],[450,2.3],[455,2.2],[460,2.2],[465,2.0],[470,1.7],[475,1.5],[480,1.6],[484,2.2],[488,3.0],[492,3.8],[496,4.8],[499,5.3],[502,5.0],[505,4.5],[509,3.5],[513,2.5],[517,1.8],[521,1.5],[525,1.4],[530,1.2],[535,1.1],[540,1.0],[545,1.1],[549,1.5],[553,2.2],[557,3.5],[561,5.0],[564,7.0],[567,9.0],[570,10],[573,11.5],[576,12.5],[579,13.2],[581,13.4],[584,13.0],[587,12.7],[590,12.0],[593,10.5],[596,9.0],[599,7.5],[602,6.0],[605,4.5],[608,3.2],[611,2.2],[614,1.5],[618,0.9],[622,0.6],[627,0.3],[632,0.2],[637,0.4],[641,0.5],[646,0.3],[650,0.2],[654,0]];
const okinawaFit=[[0,0],[200,0],[215,0.05],[230,0.1],[245,0.2],[260,0.3],[275,0.4],[290,0.55],[305,0.7],[320,0.85],[335,1.0],[350,1.15],[362,1.3],[372,1.4],[378,1.4],[382,1.0],[386,0.3],[390,0],[400,0],[410,0.2],[420,0.5],[430,0.8],[440,1.2],[450,1.6],[460,2.0],[470,2.5],[480,2.9],[490,3.3],[500,3.5],[507,3.5],[513,3.0],[520,2.4],[527,1.6],[534,0.9],[540,0.4],[543,0.1],[547,0.8],[552,2.2],[558,4.5],[564,7.5],[570,10.5],[576,12.5],[581,13.2],[585,13.2],[590,12.4],[595,10.5],[600,8.2],[605,5.8],[610,3.8],[616,2.0],[622,0.9],[630,0.3],[640,0.05],[650,0]];

const observed = {tottori:tottoriObs,shimane:shimaneObs,okayama:okayamaObs,hiroshima:hiroshimaObs,yamaguchi:yamaguchiObs,tokushima:tokushimaObs,kagawa:kagawaObs,ehime:ehimeObs,kochi:kochiObs,fukuoka:fukuokaObs,saga:sagaObs,nagasaki:nagasakiObs,kumamoto:kumamotoObs,oita:oitaObs,miyazaki:miyazakiObs,kagoshima:kagoshimaObs,okinawa:okinawaObs};
const fitted = {tottori:tottoriFit,shimane:shimaneFit,okayama:okayamaFit,hiroshima:hiroshimaFit,yamaguchi:yamaguchiFit,tokushima:tokushimaFit,kagawa:kagawaFit,ehime:ehimeFit,kochi:kochiFit,fukuoka:fukuokaFit,saga:sagaFit,nagasaki:nagasakiFit,kumamoto:kumamotoFit,oita:oitaFit,miyazaki:miyazakiFit,kagoshima:kagoshimaFit,okinawa:okinawaFit};

// layout
const colLeft = [111.7, 414.4, 717.1, 1019.8, 1322.5, 1625.3];
const rowTop = [232.3, 444.3, 656.3];
const W = 263, H = 171;
const FONT = 'Liberation Sans, Arial, Helvetica, sans-serif';

const grid=[], xAxis=[], yAxis=[], series=[], title=[];
title.push({text:'All city data in Japan (2)', left:1000, top:190, textAlign:'center',
  textStyle:{fontSize:16, fontWeight:'normal', color:'#000', fontFamily:FONT}});
cities.forEach((name,i)=>{
  const r = Math.floor(i/6), c = i%6;
  grid.push({left:colLeft[c], top:rowTop[r], width:W, height:H, show:true, borderColor:'#5a5a5a', borderWidth:1, backgroundColor:'#fff'});
  title.push({text:name, left:colLeft[c]+W/2, top:rowTop[r]-19, textAlign:'center',
    textStyle:{fontSize:13, fontWeight:'bold', color:'#111', fontFamily:FONT}});
  const xi = xAxis.length, yi = yAxis.length;
  const tick = {show:true, inside:true, length:3, lineStyle:{color:'#262626', width:1}};
  xAxis.push({type:'value', gridIndex:i, min:0, max:700, interval:200, position:'bottom',
    axisLine:{show:false}, axisTick:tick, splitLine:{show:false},
    axisLabel:{color:'#262626', fontSize:13, fontFamily:FONT, margin:5,
      formatter:v=> xTicks.includes(v) ? String(v) : ''}});
  xAxis.push({type:'value', gridIndex:i, min:0, max:700, interval:200, position:'top',
    axisLine:{show:false}, axisTick:tick, splitLine:{show:false}, axisLabel:{show:false}});
  yAxis.push({type:'value', gridIndex:i, min:0, max:yMax[i], interval:yTickStep, position:'left',
    axisLine:{show:false}, axisTick:tick, splitLine:{show:false},
    axisLabel:{color:'#262626', fontSize:13, fontFamily:FONT, margin:5,
      formatter:v=> (Math.abs(v/yTickStep - Math.round(v/yTickStep))<1e-9) ? String(+(v/1000).toFixed(4)) : ''}});
  yAxis.push({type:'value', gridIndex:i, min:0, max:yMax[i], interval:yTickStep, position:'right',
    axisLine:{show:false}, axisTick:tick, splitLine:{show:false}, axisLabel:{show:false}});
  series.push({type:'line', xAxisIndex:xi, yAxisIndex:yi, data:observed[name], showSymbol:false, symbol:'none',
    lineStyle:{color:'#0072BD', width:1}, z:2, silent:true, animation:false});
  series.push({type:'line', xAxisIndex:xi, yAxisIndex:yi, data:fitted[name], showSymbol:false, symbol:'none',
    lineStyle:{color:'#D95319', width:1}, z:3, silent:true, animation:false});
});

const chart = echarts.init(document.getElementById('c'), null, {renderer:'canvas'});
chart.setOption({
  backgroundColor:'#fff', animation:false,
  title, grid, xAxis, yAxis, series,
  graphic:[
    {type:'text', left:1000-15, top:1256, style:{text:'Days', fontSize:14, fill:'#000', fontFamily:FONT}},
    {type:'text', x:58, y:754, rotation:Math.PI/2, style:{text:'p.d.f.', fontSize:14, fill:'#000', fontFamily:FONT}}
  ]
});
</script></body></html>
